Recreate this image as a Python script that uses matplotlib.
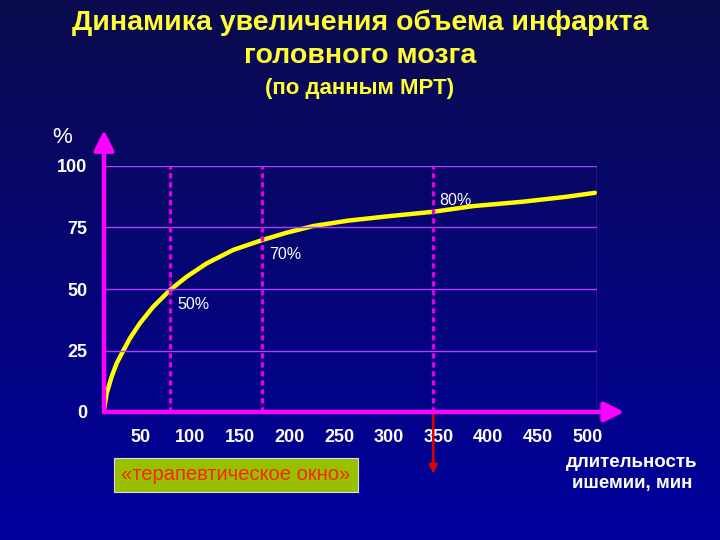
import numpy as np
import matplotlib
matplotlib.use("Agg")
import matplotlib.pyplot as plt
from matplotlib.colors import LinearSegmentedColormap

plt.rcParams['font.family'] = ['Liberation Sans', 'DejaVu Sans']

# data (x in minutes as labelled, y in %)
t_min = [13.1, 15.8, 20.8, 25.9, 31.9, 39.3, 49.3, 62.7, 79.6, 96.4, 116.5,
         143.3, 172.5, 197.1, 223.9, 259.1, 300.0, 344.7, 385.0, 435.4, 479.1, 507.6]
volume = [0.8, 7.6, 14.4, 19.8, 24.5, 30.0, 36.1, 42.8, 49.6, 55.0, 60.4,
          65.9, 69.9, 72.9, 75.6, 77.8, 79.6, 81.4, 83.7, 85.5, 87.5, 89.1]

y_ticks = [0, 25, 50, 75, 100]
x_ticks = [50, 100, 150, 200, 250, 300, 350, 400, 450, 500]
marks_t = [79.6, 172.5, 344.7]
marks_v = [49.6, 69.9, 81.4]
marks_lbl = ["50%", "70%", "80%"]

title1 = "Динамика увеличения объема инфаркта"
title2 = "головного мозга"
title3 = "(по данным МРТ)"
window_lbl = "«терапевтическое окно»"
xlabel = "длительность\nишемии, мин"

W, H = 720, 540
fig = plt.figure(figsize=(7.2, 5.4), dpi=100)

# background gradient
bg = fig.add_axes([0, 0, 1, 1])
cmap = LinearSegmentedColormap.from_list("bg", ["#0b0b4e", "#00009e"])
grad = np.linspace(0, 1, 256).reshape(-1, 1)
bg.imshow(grad, aspect="auto", cmap=cmap, extent=[0, 1, 0, 1], origin="upper")
bg.set_axis_off()


def fx(px):
    return px / W


def fy(py):
    return 1 - py / H


x0, x1 = 13.1, 509.6
ax = fig.add_axes([fx(104), fy(412), (597 - 104) / W, (412 - 166) / H])
ax.set_xlim(x0, x1)
ax.set_ylim(0, 100)
ax.patch.set_alpha(0)
for s in ax.spines.values():
    s.set_visible(False)

grid_c = "#b040ff"
ax.hlines(y_ticks[1:], x0, x1, color=grid_c, lw=1, zorder=4)
ax.vlines(x1, 0, 100, color=grid_c, lw=1, zorder=4)

ax.plot([x0] + t_min, [0] + volume, color="#ffff00", lw=3.2, zorder=3,
        solid_capstyle="round", solid_joinstyle="round")

ax.vlines(marks_t, 0, 100, color="#e000e0", lw=2.4, linestyles=(0, (1.6, 1.1)), zorder=5)

offsets = [(5, -5), (5, -5), (4, 3)]
for (t, v, s), off in zip(zip(marks_t, marks_v, marks_lbl), offsets):
    ax.annotate(s, (t, v), xytext=off, textcoords="offset points", color="white",
                fontsize=11.5, va="top" if off[1] < 0 else "bottom", ha="left", zorder=6)

# axes with arrows
arrow = dict(arrowstyle="-|>,head_length=1.2,head_width=0.6",
             color="#ff00ff", lw=3.2, shrinkA=0, shrinkB=0)
ax.annotate("", xy=(537, 0), xytext=(x0, 0), annotation_clip=False, arrowprops=arrow, zorder=6)
ax.annotate("", xy=(x0, 114.6), xytext=(x0, 0), annotation_clip=False, arrowprops=arrow, zorder=6)

# red arrow at end of therapeutic window
ax.annotate("", xy=(marks_t[2], -25), xytext=(marks_t[2], 0), annotation_clip=False,
            arrowprops=dict(arrowstyle="-|>,head_length=0.5,head_width=0.25",
                            color="#e00000", lw=1.8, shrinkA=0, shrinkB=0), zorder=2)

ax.set_xticks(x_ticks)
ax.set_xticklabels([str(v) for v in x_ticks], fontweight="bold")
ax.set_yticks(y_ticks)
ax.set_yticklabels([str(v) for v in y_ticks], fontweight="bold")
ax.tick_params(axis="x", length=0, pad=12, labelcolor="white", labelsize=13)
ax.tick_params(axis="y", length=0, pad=12, labelcolor="white", labelsize=13)

# texts
yel = "#ffff33"
fig.text(0.5, fy(23), title1, color=yel, fontsize=20.5, fontweight="bold", ha="center", va="center")
fig.text(0.5, fy(56), title2, color=yel, fontsize=20.5, fontweight="bold", ha="center", va="center")
fig.text(0.5, fy(89), title3, color=yel, fontsize=16, fontweight="bold", ha="center", va="center")
fig.text(fx(62), fy(137), "%", color="white", fontsize=16, ha="center", va="center")
fig.text(fx(632), fy(473), xlabel, color="white", fontsize=13.5, fontweight="bold",
         ha="center", va="center", linespacing=1.25)
fig.text(fx(236), fy(475), window_lbl, color="#ff2200", fontsize=14.5,
         ha="center", va="center",
         bbox=dict(boxstyle="square,pad=0.35", fc="#99c000", ec="#dddddd", lw=0.8))

fig.savefig("out.png", dpi=100)
